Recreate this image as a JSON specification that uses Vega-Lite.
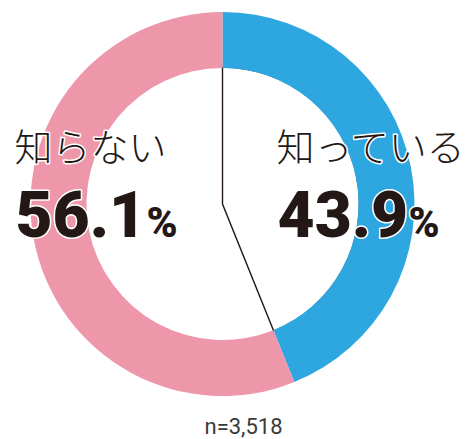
{
  "$schema": "https://vega.github.io/schema/vega-lite/v6.json",
  "width": 445,
  "height": 408,
  "autosize": {"type": "none"},
  "padding": {"left": 0, "top": 0, "right": 23, "bottom": 31},
  "background": "white",
  "config": {"view": {"stroke": null}},
  "title": {
    "text": "n=3,518",
    "orient": "bottom",
    "anchor": "middle",
    "offset": 9,
    "dx": 21,
    "fontSize": 22,
    "font": "Roboto",
    "fontWeight": 400,
    "color": "#3a3a3a"
  },
  "data": {
    "values": [
      {"category": "知っている", "pct": 43.9, "label": "43.9"},
      {"category": "知らない", "pct": 56.1, "label": "56.1"}
    ]
  },
  "layer": [
    {
      "mark": {"type": "arc", "outerRadius": 137, "innerRadius": 0, "fill": "transparent", "strokeWidth": 1.4},
      "encoding": {
        "theta": {"field": "pct", "type": "quantitative", "stack": true},
        "order": {"field": "category", "sort": "ascending"},
        "stroke": {
          "condition": {"test": "datum.category === '知っている'", "value": "#231815"},
          "value": "transparent"
        }
      }
    },
    {
      "mark": {"type": "arc", "outerRadius": 192, "innerRadius": 136},
      "encoding": {
        "theta": {"field": "pct", "type": "quantitative", "stack": true},
        "order": {"field": "category", "sort": "ascending"},
        "color": {
          "field": "category",
          "type": "nominal",
          "scale": {"domain": ["知っている", "知らない"], "range": ["#2ea7e0", "#ee97ab"]},
          "legend": null
        }
      }
    },
    {
      "mark": {"type": "text", "font": "Noto Sans CJK JP", "fontSize": 38, "fontWeight": 300, "align": "left", "baseline": "middle", "dx": -77, "dy": -54, "fill": "white", "stroke": "white", "strokeWidth": 3, "strokeJoin": "round"},
      "encoding": {
        "x": {"field": "category", "type": "nominal", "scale": {"type": "point", "domain": ["知らない", "知っている"], "padding": 0.349}, "axis": null},
        "text": {"field": "category"}
      }
    },
    {
      "mark": {"type": "text", "font": "Noto Sans CJK JP", "fontSize": 38, "fontWeight": 300, "align": "left", "baseline": "middle", "dx": -77, "dy": -54, "fill": "#231815"},
      "encoding": {
        "x": {"field": "category", "type": "nominal", "scale": {"type": "point", "domain": ["知らない", "知っている"], "padding": 0.349}, "axis": null},
        "text": {"field": "category"}
      }
    },
    {
      "mark": {"type": "text", "font": "Roboto", "fontSize": 64, "fontWeight": 900, "align": "left", "baseline": "alphabetic", "dx": -76, "dy": 33, "fill": "white", "stroke": "white", "strokeWidth": 3, "strokeJoin": "round"},
      "encoding": {
        "x": {"field": "category", "type": "nominal", "scale": {"type": "point", "domain": ["知らない", "知っている"], "padding": 0.349}, "axis": null},
        "text": {"field": "label"}
      }
    },
    {
      "mark": {"type": "text", "font": "Roboto", "fontSize": 64, "fontWeight": 900, "align": "left", "baseline": "alphabetic", "dx": -76, "dy": 33, "fill": "#231815"},
      "encoding": {
        "x": {"field": "category", "type": "nominal", "scale": {"type": "point", "domain": ["知らない", "知っている"], "padding": 0.349}, "axis": null},
        "text": {"field": "label"}
      }
    },
    {
      "mark": {"type": "text", "font": "Roboto", "fontSize": 42, "fontWeight": 900, "align": "left", "baseline": "alphabetic", "dx": 55, "dy": 33, "fill": "white", "stroke": "white", "strokeWidth": 3, "strokeJoin": "round"},
      "encoding": {
        "x": {"field": "category", "type": "nominal", "scale": {"type": "point", "domain": ["知らない", "知っている"], "padding": 0.349}, "axis": null},
        "text": {"value": "%"}
      }
    },
    {
      "mark": {"type": "text", "font": "Roboto", "fontSize": 42, "fontWeight": 900, "align": "left", "baseline": "alphabetic", "dx": 55, "dy": 33, "fill": "#231815"},
      "encoding": {
        "x": {"field": "category", "type": "nominal", "scale": {"type": "point", "domain": ["知らない", "知っている"], "padding": 0.349}, "axis": null},
        "text": {"value": "%"}
      }
    }
  ]
}
